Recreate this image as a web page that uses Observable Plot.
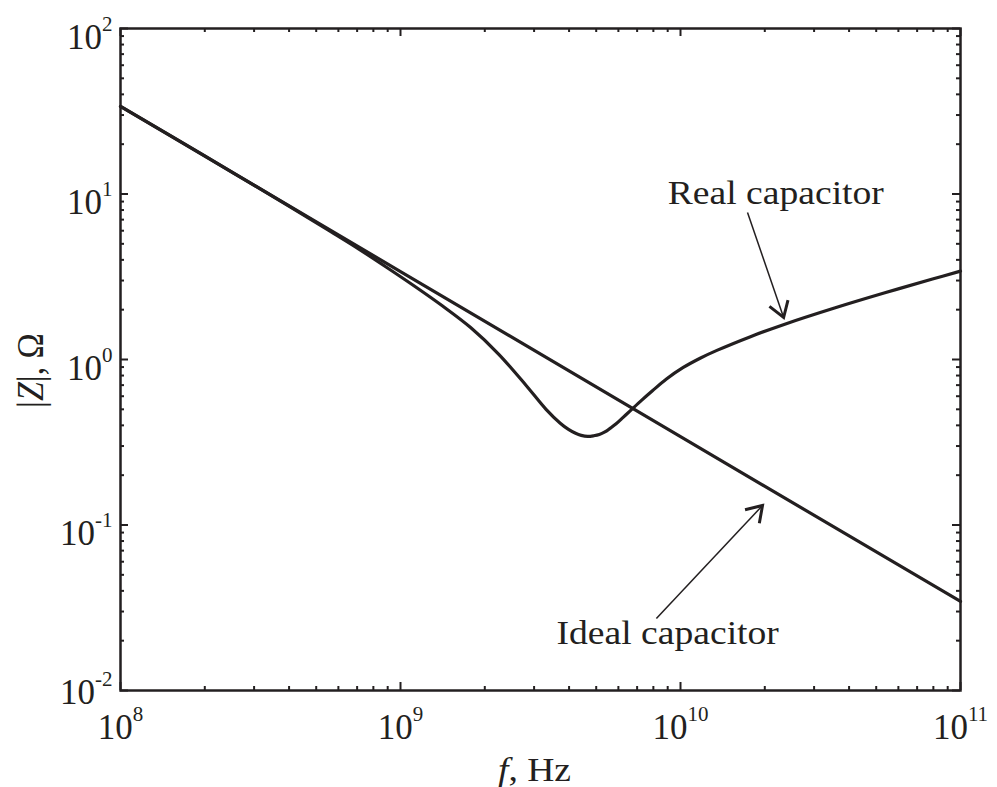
<!DOCTYPE html>
<html>
<head>
<meta charset="utf-8">
<script src="https://cdn.jsdelivr.net/npm/d3@7"></script>
<script src="https://cdn.jsdelivr.net/npm/@observablehq/plot@0.6"></script>
<style>
  body { margin: 0; background: #fff; }
  #chart svg { display: block; }
</style>
</head>
<body>
<div id="chart"></div>
<script>
// |Z| of an ideal capacitor (ohms) against frequency (Hz)
const idealFreq = [1e8, 1e9, 1e10, 1e11];
const idealZ = [33.8, 3.40, 0.342, 0.0345];

// |Z| of a real capacitor: follows the ideal one, dips at series resonance, then turns inductive
const realFreq = [1.00e8, 2.00e8, 3.98e8, 5.62e8, 7.08e8, 8.91e8, 1.12e9, 1.41e9, 1.78e9, 2.24e9,
  2.82e9, 3.31e9, 3.72e9, 3.98e9, 4.22e9, 4.42e9, 4.66e9, 4.90e9, 5.13e9, 5.37e9,
  5.62e9, 5.89e9, 6.24e9, 6.61e9, 7.24e9, 7.94e9, 8.91e9, 1.023e10, 1.175e10, 1.349e10,
  1.778e10, 2.344e10, 3.548e10, 5.370e10, 7.943e10, 1.00e11];
const realZ = [33.8, 16.98, 8.49, 5.94, 4.66, 3.61, 2.78, 2.111, 1.560, 1.079,
  0.692, 0.500, 0.412, 0.378, 0.358, 0.348, 0.343, 0.346, 0.352, 0.365,
  0.385, 0.409, 0.447, 0.489, 0.564, 0.647, 0.762, 0.895, 1.018, 1.135,
  1.374, 1.629, 2.046, 2.529, 3.062, 3.420];

// Annotations: label anchor and arrow (tail -> tip), in data units
const noteLabels = ["Real capacitor", "Ideal capacitor"];
const noteFreq = [2.19e10, 9.0e9];
const noteZ = [8.76, 0.0192];
const arrowTailFreq = [1.735e10, 8.2e9];
const arrowTailZ = [7.73, 0.0272];
const arrowTipFreq = [2.335e10, 1.963e10];
const arrowTipZ = [1.794, 0.1312];

// Axes
const xDomain = [1e8, 1e11];
const yDomain = [1e-2, 1e2];
const xMajor = [1e8, 1e9, 1e10, 1e11];
const xTickLabels = ["10^8", "10^9", "10^10", "10^11"];
const yMajor = [1e-2, 1e-1, 1e0, 1e1, 1e2];
const yTickLabels = ["10^-2", "10^-1", "10^0", "10^1", "10^2"];
const xLabel = "f, Hz";
const yLabel = "|Z|, Ω";

const W = 997, H = 787;
const M = {top: 28, right: 37, bottom: 97, left: 120};
const frameW = W - M.left - M.right;
const frameH = H - M.top - M.bottom;
const ink = "#231f20";
const serif = "'Liberation Serif', 'Times New Roman', serif";
const majorLen = 8, minorLen = 4;

// minor ticks at 2..9 within each decade
const minorsOf = ([lo, hi]) => {
  const out = [];
  for (let e = Math.round(Math.log10(lo)); e < Math.round(Math.log10(hi)); e++)
    for (let m = 2; m <= 9; m++) out.push(m * 10 ** e);
  return out;
};
const xMinor = minorsOf(xDomain);
const yMinor = minorsOf(yDomain);

const ideal = idealFreq.map((f, i) => ({f, z: idealZ[i]}));
const real = realFreq.map((f, i) => ({f, z: realZ[i]}));

// pixel-space direction of each arrow, for orienting its head
const sx = Plot.scale({x: {type: "log", domain: xDomain, range: [M.left, W - M.right]}});
const sy = Plot.scale({y: {type: "log", domain: yDomain, range: [H - M.bottom, M.top]}});
const notes = noteLabels.map((label, i) => {
  const dx = sx.apply(arrowTipFreq[i]) - sx.apply(arrowTailFreq[i]);
  const dy = sy.apply(arrowTipZ[i]) - sy.apply(arrowTailZ[i]);
  return {
    label, f: noteFreq[i], z: noteZ[i],
    f1: arrowTailFreq[i], z1: arrowTailZ[i], f2: arrowTipFreq[i], z2: arrowTipZ[i],
    angle: Math.atan2(dx, -dy) * 180 / Math.PI
  };
});

// open "V" arrowhead with its point at the origin, opening backwards
const headShape = {
  draw(context, l) {
    const a = 33 * Math.PI / 180;
    context.moveTo(-l * Math.sin(a), l * Math.cos(a));
    context.lineTo(0, 0);
    context.lineTo(l * Math.sin(a), l * Math.cos(a));
  }
};

const tickStyle = {stroke: ink, strokeWidth: 2};

const chart = Plot.plot({
  width: W,
  height: H,
  marginTop: M.top, marginRight: M.right, marginBottom: M.bottom, marginLeft: M.left,
  x: {type: "log", domain: xDomain, axis: null},
  y: {type: "log", domain: yDomain, axis: null},
  style: {fontFamily: serif, color: ink, background: "#fff"},
  marks: [
    // inward ticks on all four sides
    Plot.ruleX(xMinor, {...tickStyle, insetTop: frameH - minorLen}),
    Plot.ruleX(xMinor, {...tickStyle, insetBottom: frameH - minorLen}),
    Plot.ruleX(xMajor, {...tickStyle, insetTop: frameH - majorLen}),
    Plot.ruleX(xMajor, {...tickStyle, insetBottom: frameH - majorLen}),
    Plot.ruleY(yMinor, {...tickStyle, insetRight: frameW - minorLen}),
    Plot.ruleY(yMinor, {...tickStyle, insetLeft: frameW - minorLen}),
    Plot.ruleY(yMajor, {...tickStyle, insetRight: frameW - majorLen}),
    Plot.ruleY(yMajor, {...tickStyle, insetLeft: frameW - majorLen}),
    Plot.frame({stroke: ink, strokeWidth: 2.5}),

    // impedance curves
    Plot.line(ideal, {x: "f", y: "z", stroke: ink, strokeWidth: 3.2}),
    Plot.line(real, {x: "f", y: "z", curve: "catmull-rom", stroke: ink, strokeWidth: 3.2}),

    // annotation arrows: thin shaft, heavier open head
    Plot.link(notes, {x1: "f1", y1: "z1", x2: "f2", y2: "z2", stroke: ink, strokeWidth: 1.5}),
    Plot.vector(notes, {
      x: "f2", y: "z2", rotate: "angle", length: 18, anchor: "start", shape: headShape,
      stroke: ink, strokeWidth: 3, strokeLinejoin: "miter", strokeLinecap: "butt"
    }),
    Plot.text(notes, {
      x: "f", y: "z", text: "label", lineAnchor: "bottom", textAnchor: "middle",
      fontSize: 33, fill: ink, fontFamily: serif
    }),

    // tick labels
    Plot.text(xTickLabels, {
      x: (d, i) => xMajor[i], frameAnchor: "bottom", lineAnchor: "bottom", dy: 48,
      textAnchor: "middle", fontSize: 35, fill: ink, fontFamily: serif
    }),
    Plot.text(yTickLabels.slice(1), {
      y: (d, i) => yMajor[i + 1], frameAnchor: "left", lineAnchor: "bottom", dx: -8, dy: 20,
      textAnchor: "end", fontSize: 35, fill: ink, fontFamily: serif
    }),
    Plot.text(yTickLabels.slice(0, 1), {
      y: (d, i) => yMajor[i], frameAnchor: "left", lineAnchor: "bottom", dx: -8, dy: 13,
      textAnchor: "end", fontSize: 35, fill: ink, fontFamily: serif
    }),

    // axis titles
    Plot.text([xLabel], {
      frameAnchor: "bottom", lineAnchor: "bottom", dx: -6, dy: 90,
      textAnchor: "middle", fontSize: 33, fill: ink, fontFamily: serif
    }),
    Plot.text([yLabel], {
      frameAnchor: "left", lineAnchor: "bottom", rotate: -90, dx: -78, dy: 11,
      textAnchor: "middle", fontSize: 34, fill: ink, fontFamily: serif
    })
  ]
});

// Typeset powers of ten and italic symbols inside the rendered text elements
const NS = "http://www.w3.org/2000/svg";
const run = (parent, str, attrs = {}) => {
  const t = document.createElementNS(NS, "tspan");
  for (const [k, v] of Object.entries(attrs)) t.setAttribute(k, v);
  t.textContent = str;
  parent.appendChild(t);
};
const wide = 1.14; // text glyphs are drawn slightly wide
for (const el of chart.querySelectorAll("text")) {
  const s = el.textContent;
  const pow = /^10\^(-?\d+)$/.exec(s);
  if (pow) {
    el.textContent = "";
    run(el, "10");
    run(el, pow[1], {"font-size": 21, dy: -18});
    continue;
  }
  const tf = el.getAttribute("transform") || "";
  el.setAttribute("transform", tf.includes("rotate(")
    ? tf.replace("rotate(", `scale(${wide},1) rotate(`)
    : `${tf} scale(${wide},1)`);
  if (s === xLabel) {
    el.textContent = "";
    run(el, "f", {"font-style": "italic"});
    run(el, ", Hz");
  } else if (s === yLabel) {
    el.textContent = "";
    run(el, "|");
    run(el, "Z", {"font-style": "italic"});
    run(el, "|, Ω");
  }
}

document.getElementById("chart").appendChild(chart);
</script>
</body>
</html>
